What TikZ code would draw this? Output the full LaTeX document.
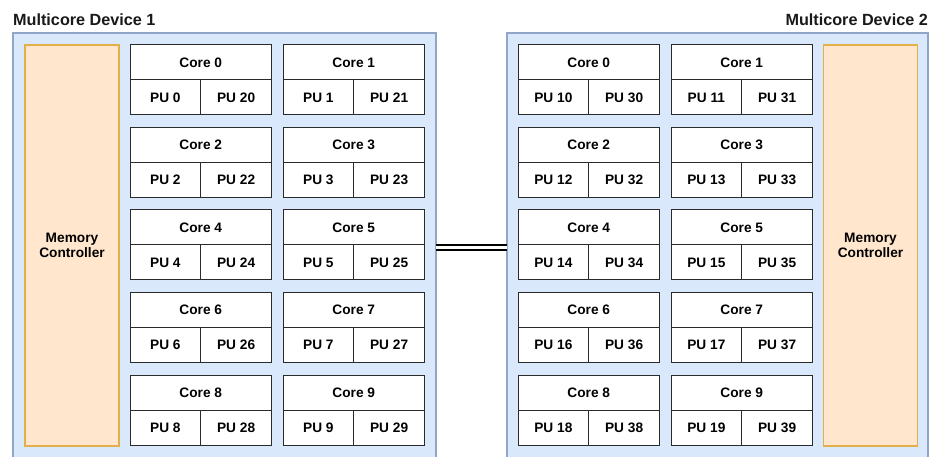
\documentclass[tikz,border=0pt]{standalone}
\usepackage{fontspec}
\setmainfont{Liberation Sans}
\definecolor{devfill}{HTML}{DAE8FC}
\definecolor{devline}{HTML}{8FA6C9}
\definecolor{memfill}{HTML}{FFE6CC}
\definecolor{memline}{HTML}{E2B04A}
\definecolor{cellline}{HTML}{2B2B2B}
\newcommand\cellfont{\fontsize{13.7}{15.5}\selectfont\bfseries}
\newcommand\headfont{\fontsize{16.2}{18}\selectfont\bfseries}
\tikzset{
  device/.style={draw=devline, fill=devfill, line width=1.2pt, anchor=north west,
    inner sep=0pt, outer sep=0pt, minimum width=#1, minimum height=429pt},
  memctrl/.style={draw=memline, fill=memfill, line width=1.2pt, anchor=north west,
    inner sep=0pt, outer sep=0pt, minimum width=94pt, minimum height=401pt,
    align=center, font=\cellfont},
  corehead/.style={draw=cellline, fill=white, line width=1pt, anchor=north west,
    inner sep=0pt, outer sep=0pt, minimum width=141.5pt, minimum height=35pt,
    font=\cellfont},
  pucell/.style={draw=cellline, fill=white, line width=1pt, anchor=north west,
    inner sep=0pt, outer sep=0pt, minimum width=70.75pt, minimum height=35pt,
    font=\cellfont},
  devtitle/.style={font=\headfont, inner sep=0pt, text=black!90},
  link/.style={draw=black, line width=2pt, double=white, double distance=3.8pt}
}
% one core: header cell with two processing units below it
\newcommand\corecell[6]{%
  \node[corehead] (#1) at (#2,#3) {Core #4};
  \node[pucell] (#1-l) at (#1.south west) {PU #5};
  \node[pucell] (#1-r) at (#1-l.north east) {PU #6};
}
\begin{document}
\begin{tikzpicture}[x=1pt,y=-1pt]
  \path[use as bounding box] (0,0) rectangle (930,457);
  \clip (0,0) rectangle (930,457);

  % device frames
  \node[device=423pt] (dev1) at (13,33) {};
  \node[device=421pt] (dev2) at (507,33) {};

  % titles
  \node[devtitle, anchor=base west] (title1) at (13,25.7) {Multicore Device 1};
  \node[devtitle, anchor=base east] (title2) at (928,25.7) {Multicore Device 2};

  % memory controllers
  \node[memctrl] (mem1) at (25,45) {Memory\\Controller};
  \node[memctrl] (mem2) at (823.5,45) {Memory\\Controller};

  % cores, two columns per device
  \foreach \r in {0,...,4}{
    \pgfmathsetmacro\ty{45+82.5*\r}
    \pgfmathtruncatemacro\ca{2*\r}
    \pgfmathtruncatemacro\cb{2*\r+1}
    \pgfmathtruncatemacro\pa{\ca+20}
    \pgfmathtruncatemacro\pb{\cb+20}
    \pgfmathtruncatemacro\qa{\ca+10}
    \pgfmathtruncatemacro\qb{\cb+10}
    \pgfmathtruncatemacro\sa{\ca+30}
    \pgfmathtruncatemacro\sb{\cb+30}
    \corecell{a\ca}{130}{\ty}{\ca}{\ca}{\pa}
    \corecell{a\cb}{283}{\ty}{\cb}{\cb}{\pb}
    \corecell{b\ca}{518}{\ty}{\ca}{\qa}{\sa}
    \corecell{b\cb}{671}{\ty}{\cb}{\qb}{\sb}
  }

  % interconnect between the two devices
  \draw[link] (dev1.east) -- (dev2.west);
\end{tikzpicture}
\end{document}
